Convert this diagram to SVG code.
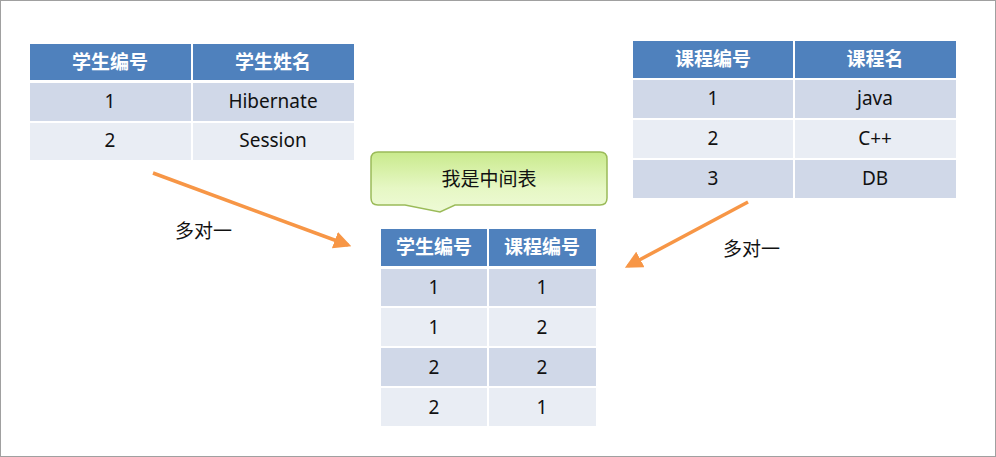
<svg xmlns="http://www.w3.org/2000/svg" width="996" height="457" viewBox="0 0 996 457">
<style>
.h{fill:#4F81BD}.a{fill:#D0D8E8}.b{fill:#E9EDF4}
.ht{font-family:"Noto Sans CJK SC",sans-serif;font-weight:bold;font-size:19px;fill:#fff;text-anchor:middle}
.t{font-family:"Noto Sans","Noto Sans CJK SC",sans-serif;font-size:19px;fill:#111;text-anchor:middle}
.l{font-family:"Noto Sans CJK SC",sans-serif;font-size:19px;fill:#111}
.ar{stroke:#F79646;stroke-width:3.5;fill:none}
</style>
<defs>
<linearGradient id="g" x1="0" y1="0" x2="0" y2="1"><stop offset="0" stop-color="#C9EA8C"/><stop offset="0.6" stop-color="#E6F7C4"/><stop offset="1" stop-color="#EEFAD6"/></linearGradient>
<marker id="m" viewBox="0 0 10 10" refX="8" refY="5" markerWidth="5" markerHeight="5" orient="auto"><path d="M0,0 L10,5 L0,10 z" fill="#F79646"/></marker>
</defs>
<rect x="0.5" y="0.5" width="995" height="456" fill="#fff" stroke="#A0A0A0"/>
<g id="table-students">
<rect class="h" x="30" y="44" width="161" height="36"/><rect class="h" x="193" y="44" width="161" height="36"/>
<rect class="a" x="30" y="83" width="161" height="38"/><rect class="a" x="193" y="83" width="161" height="38"/>
<rect class="b" x="30" y="123" width="161" height="37"/><rect class="b" x="193" y="123" width="161" height="37"/>
<text class="ht" x="110" y="69">学生编号</text><text class="ht" x="273" y="69">学生姓名</text>
<text class="t" x="110" y="108">1</text><text class="t" x="273" y="108">Hibernate</text>
<text class="t" x="110" y="147">2</text><text class="t" x="273" y="147">Session</text>
</g>
<g id="table-courses">
<rect class="h" x="633" y="41" width="160" height="37"/><rect class="h" x="795" y="41" width="161" height="37"/>
<rect class="a" x="633" y="80" width="160" height="38"/><rect class="a" x="795" y="80" width="161" height="38"/>
<rect class="b" x="633" y="120" width="160" height="38"/><rect class="b" x="795" y="120" width="161" height="38"/>
<rect class="a" x="633" y="160" width="160" height="38"/><rect class="a" x="795" y="160" width="161" height="38"/>
<text class="ht" x="713" y="66">课程编号</text><text class="ht" x="875" y="66">课程名</text>
<text class="t" x="713" y="105">1</text><text class="t" x="875" y="105">java</text>
<text class="t" x="713" y="145">2</text><text class="t" x="875" y="145">C++</text>
<text class="t" x="713" y="185">3</text><text class="t" x="875" y="185">DB</text>
</g>
<g id="callout">
<path d="M378,152 H600 Q607,152 607,159 V198 Q607,205 600,205 H455 L440,212 L405,205 H378 Q371,205 371,198 V159 Q371,152 378,152 Z" fill="url(#g)" stroke="#9BBB59" stroke-width="1.5"/>
<text class="l" x="489" y="186" text-anchor="middle" font-size="20">我是中间表</text>
</g>
<g id="table-join">
<rect class="h" x="381" y="229" width="106" height="37"/><rect class="h" x="489" y="229" width="107" height="37"/>
<rect class="a" x="381" y="269" width="106" height="37"/><rect class="a" x="489" y="269" width="107" height="37"/>
<rect class="b" x="381" y="308" width="106" height="38"/><rect class="b" x="489" y="308" width="107" height="38"/>
<rect class="a" x="381" y="348" width="106" height="38"/><rect class="a" x="489" y="348" width="107" height="38"/>
<rect class="b" x="381" y="388" width="106" height="38"/><rect class="b" x="489" y="388" width="107" height="38"/>
<text class="ht" x="434" y="254">学生编号</text><text class="ht" x="542" y="254">课程编号</text>
<text class="t" x="434" y="294">1</text><text class="t" x="542" y="294">1</text>
<text class="t" x="434" y="334">1</text><text class="t" x="542" y="334">2</text>
<text class="t" x="434" y="374">2</text><text class="t" x="542" y="374">2</text>
<text class="t" x="434" y="414">2</text><text class="t" x="542" y="414">1</text>
</g>
<g id="connectors">
<line class="ar" x1="153" y1="173" x2="348" y2="245" marker-end="url(#m)"/>
<line class="ar" x1="748" y1="202" x2="628" y2="266" marker-end="url(#m)"/>
<text class="l" x="175" y="238">多对一</text>
<text class="l" x="723" y="256">多对一</text>
</g>
</svg>
